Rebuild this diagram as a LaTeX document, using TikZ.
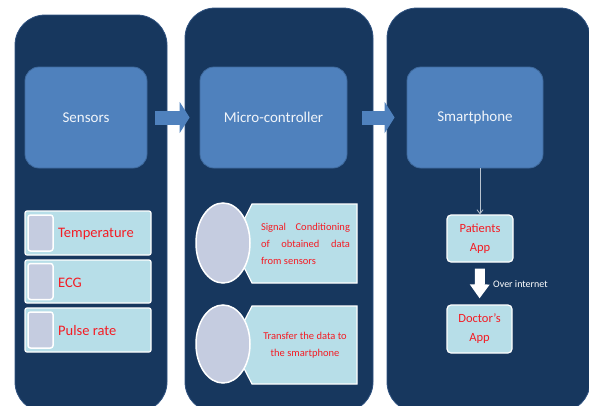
\documentclass[tikz,border=0pt]{standalone}
\usepackage{fontspec}
\setmainfont{Carlito}
\usetikzlibrary{arrows.meta,shapes.geometric}
\definecolor{navy}{HTML}{17375E}
\definecolor{navyedge}{HTML}{2F5280}
\definecolor{midblue}{HTML}{4F81BD}
\definecolor{midedge}{HTML}{3F6A9E}
\definecolor{lightblue}{HTML}{B7DEE8}
\definecolor{lav}{HTML}{C5CCE0}
\definecolor{redtxt}{HTML}{F41C24}
\begin{document}
\begin{tikzpicture}[x=1pt,y=-1pt,
  panel/.style={draw=navyedge, line width=0.8pt, fill=navy, rounded corners=30pt, inner sep=0pt},
  headbox/.style={draw=midedge, line width=0.8pt, fill=midblue, rounded corners=14pt, inner sep=0pt,
    text=white!92!midblue, font=\fontsize{15}{17}\selectfont},
  listbox/.style={draw=white, line width=1.2pt, fill=lightblue, rounded corners=2pt, inner sep=0pt},
  sq/.style={draw=white, line width=1.5pt, fill=lav, rounded corners=2.5pt, inner sep=0pt, minimum width=25pt, minimum height=36pt},
  redlbl/.style={text=redtxt, font=\fontsize{14.5}{16}\selectfont, anchor=west, inner sep=0pt},
  oval/.style={ellipse, draw=white, line width=1.5pt, fill=lav, inner sep=0pt},
  appbox/.style={draw=white, line width=1.2pt, fill=lightblue, rounded corners=4pt, inner sep=0pt,
    text=redtxt, align=center, font=\fontsize{12.5}{19}\selectfont},
  blockarrow/.style={line width=14pt, draw=midblue, -{Triangle[width=31pt,length=10pt]}},
]
\useasboundingbox (0,0) rectangle (589,405);
\clip (0,0) rectangle (589,405);

% panels
\node[panel, minimum width=152pt, minimum height=397pt] (p1) at (91,213.5) {};
\node[panel, minimum width=188pt, minimum height=404pt] (p2) at (279,210) {};
\node[panel, minimum width=203pt, minimum height=404pt] (p3) at (488.5,210) {};

% head boxes
\node[headbox, minimum width=122pt, minimum height=101pt] (sens) at (86,117.5) {Sensors};
\node[headbox, minimum width=147pt, minimum height=101pt] (mc) at (273.5,117.5) {Micro-controller};
\node[headbox, minimum width=136pt, minimum height=101pt] (sp) at (475,117.5) {Smartphone};

% block arrows between head boxes
\draw[blockarrow, shorten <=8pt, shorten >=10pt] (sens.east) -- (mc.west);
\draw[blockarrow, shorten <=15pt, shorten >=12pt] (mc.east) -- (sp.west);

% sensor list
\node[listbox, minimum width=126pt, minimum height=44pt] (l1) at (88,233) {};
\node[listbox, minimum width=126pt, minimum height=43pt] (l2) at (88,281.5) {};
\node[listbox, minimum width=126pt, minimum height=44pt] (l3) at (88,330) {};
\node[sq] (s1) at (40.5,233) {};
\node[sq] (s2) at (40.5,281.5) {};
\node[sq] (s3) at (40.5,330) {};
\node[redlbl] (t1) at (58,234) {Temperature};
\node[redlbl] (t2) at (58,282.5) {ECG};
\node[redlbl] (t3) at (58,331) {Pulse rate};

% micro-controller items
\filldraw[draw=white, line width=1.2pt, fill=lightblue] (252,204) -- (357,204) -- (357,283) -- (252,283) -- (232,243.5) -- cycle;
\filldraw[draw=white, line width=1.2pt, fill=lightblue] (252,306) -- (357,306) -- (357,384) -- (252,384) -- (232,345) -- cycle;
\node[oval, minimum width=54pt, minimum height=80pt] (c1) at (223,243) {};
\node[oval, minimum width=54pt, minimum height=78pt] (c2) at (223,344) {};
\node[text=redtxt, text width=89pt, align=justify, inner sep=0pt,
  font=\fontsize{10.5}{17}\selectfont] (m1) at (305.5,244)
  {Signal Conditioning of obtained data from sensors};
\node[text=redtxt, align=center, inner sep=0pt,
  font=\fontsize{10.5}{17}\selectfont] (m2) at (305,345)
  {Transfer the data to\\the smartphone};

% smartphone items
\node[appbox, minimum width=66pt, minimum height=47pt] (pat) at (480,238.5) {Patients\\App};
\node[appbox, minimum width=65pt, minimum height=48pt] (doc) at (479.5,329) {Doctor’s\\App};
\draw[draw=white!70!navy, line width=0.8pt, -{Straight Barb[length=4pt,width=6pt]}]
  (pat.north |- sp.south) -- (pat.north);
\draw[white, line width=10pt, -{Triangle[width=19pt,length=14pt]}, shorten <=6pt, shorten >=6pt]
  (pat.south) -- (doc.north);
\node[text=white, font=\fontsize{10}{11}\selectfont, anchor=west, inner sep=0pt] (oi) at (493,284) {Over internet};
\end{tikzpicture}
\end{document}
